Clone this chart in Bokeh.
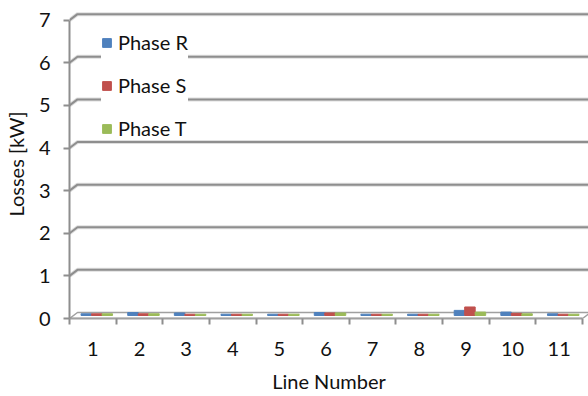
import numpy as np
from bokeh.plotting import figure
from bokeh.models import Range1d, FixedTicker, ColumnDataSource
from bokeh.embed import file_html
from bokeh.resources import INLINE

# ---- data ----
lines = [1, 2, 3, 4, 5, 6, 7, 8, 9, 10, 11]
phase_r = [0.04, 0.07, 0.06, 0.03, 0.03, 0.07, 0.03, 0.03, 0.12, 0.08, 0.04]
phase_s = [0.04, 0.04, 0.03, 0.03, 0.03, 0.06, 0.03, 0.03, 0.20, 0.05, 0.03]
phase_t = [0.04, 0.04, 0.03, 0.03, 0.03, 0.06, 0.03, 0.03, 0.08, 0.04, 0.03]
series_names = ["Phase R", "Phase S", "Phase T"]
series_colors = ["#4F81BD", "#C0504D", "#9BBB59"]
y_ticks = [0, 1, 2, 3, 4, 5, 6, 7]

FONT = "Lato"
TXT = "#111111"
GRID = "#8e8e8e"

PX_X = 46.73
PX_Y = 42.57
DX = 8 / PX_X   # depth offset (3D look)
DY = 6 / PX_Y
x0 = lines[0] - 0.5
x1 = lines[-1] + 0.5
x_end = x0 + 520 / PX_X

p = figure(width=588, height=396, output_backend="svg", toolbar_location=None,
           x_range=Range1d(x0, x_end), y_range=Range1d(0, 7.25),
           min_border_left=68, min_border_right=0, min_border_top=9, min_border_bottom=78)
p.outline_line_color = None
p.xgrid.visible = False
p.ygrid.visible = False

# back-wall gridlines with perspective offset
for v in y_ticks[1:]:
    p.line([x0, x0 + DX, x_end], [v, v + DY, v + DY], line_color="#dedede", line_width=4)
    p.line([x0, x0 + DX, x_end], [v, v + DY, v + DY], line_color=GRID, line_width=2)

# floor
p.patch([x0, x1, x1 + DX, x0 + DX], [0, 0, DY, DY], fill_color="white",
        line_color="#a0a0a0", line_width=1.5)

# bars
W = 0.225
for i, (vals, name, col) in enumerate(zip([phase_r, phase_s, phase_t], series_names, series_colors)):
    xs = np.array(lines, dtype=float) + (i - 1) * W + DX / 2
    src = ColumnDataSource(dict(x=xs, top=np.array(vals) + DY / 2))
    p.vbar(x="x", top="top", bottom=DY / 2, width=W, source=src,
           fill_color=col, line_color=col, line_width=1, legend_label=name)

# axes
p.yaxis.ticker = FixedTicker(ticks=y_ticks)
p.yaxis.bounds = (0, 7)
p.yaxis.axis_line_color = GRID
p.yaxis.axis_line_width = 2
p.yaxis.major_tick_line_color = GRID
p.yaxis.major_tick_line_width = 2
p.yaxis.major_tick_out = 6
p.yaxis.major_tick_in = 0
p.yaxis.minor_tick_line_color = None
p.yaxis.major_label_standoff = 13
p.yaxis.axis_label = "Losses [kW]"
p.yaxis.axis_label_standoff = 8

p.xaxis.ticker = FixedTicker(ticks=lines, minor_ticks=[c - 0.5 for c in lines] + [lines[-1] + 0.5])
p.xaxis.bounds = (x0, x1)
p.xaxis.axis_line_color = "#a0a0a0"
p.xaxis.axis_line_width = 2
p.xaxis.major_tick_line_color = None
p.xaxis.major_tick_out = 0
p.xaxis.major_tick_in = 0
p.xaxis.minor_tick_line_color = GRID
p.xaxis.minor_tick_line_width = 2
p.xaxis.minor_tick_out = 6
p.xaxis.minor_tick_in = 0
p.xaxis.major_label_standoff = 17
p.xaxis.axis_label = "Line Number"
p.xaxis.axis_label_standoff = 10

for ax in (p.xaxis[0], p.yaxis[0]):
    ax.major_label_text_font = FONT
    ax.major_label_text_font_size = "20px"
    ax.major_label_text_color = TXT
    ax.axis_label_text_font = FONT
    ax.axis_label_text_font_size = "20px"
    ax.axis_label_text_font_style = "normal"
    ax.axis_label_text_color = TXT

leg = p.legend[0]
leg.location = (32, 178)
leg.label_text_font = FONT
leg.label_text_font_size = "20px"
leg.label_text_color = TXT
leg.glyph_width = 11
leg.glyph_height = 11
leg.label_height = 24
leg.label_standoff = 6
leg.spacing = 19
leg.padding = 10
leg.border_line_color = None
leg.background_fill_color = "white"
leg.background_fill_alpha = 1.0

open("out.html", "w").write(file_html(p, INLINE))
